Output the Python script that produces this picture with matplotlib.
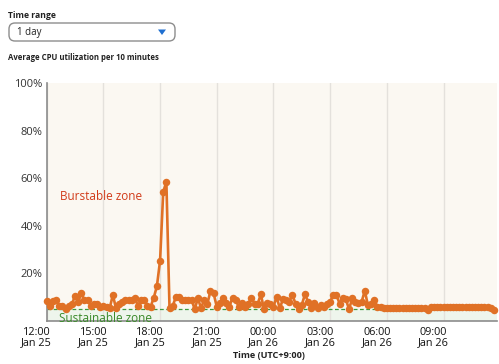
import matplotlib
matplotlib.use("Agg")
import matplotlib.pyplot as plt
import matplotlib.transforms as mtransforms
from matplotlib.patches import FancyBboxPatch, Polygon
import numpy as np

plt.rcParams['font.family'] = ['Open Sans', 'DejaVu Sans']

# ---- data ----
cpu_first = [8.4, 6.4, 8.4, 8.8, 6.4, 6.4, 5.0, 6.4, 7.1, 10.5, 8.0, 11.6, 8.8, 8.8, 6.4, 7.0,
             7.0, 6.0, 6.4, 6.0, 5.3, 11.0, 5.3, 7.3, 8.0, 8.8, 8.8, 8.8, 9.5, 6.4, 8.8, 8.8,
             6.4, 6.0, 9.8, 14.7, 25.4, 54.3, 58.5, 5.3, 6.4, 9.9, 9.9, 8.8, 8.8, 8.8, 8.8, 5.0,
             9.5, 5.5, 8.8, 7.1, 12.6, 11.6, 6.0, 7.6, 9.5, 7.6, 6.0, 9.8, 8.8, 6.0]
cpu_mid = [7.7, 6.0, 7.3, 9.5, 7.3, 7.3, 11.2, 4.9, 7.7, 7.3, 6.0, 10.2, 5.3, 9.1, 8.8, 8.1,
           11.0, 7.3, 4.9, 6.8, 11.2, 8.1, 5.3, 7.7, 5.3, 6.6, 6.0, 7.3, 8.1, 11.0, 11.0, 7.3,
           9.5, 9.1, 4.9, 9.5, 8.1, 7.7, 8.1, 12.7, 6.6, 7.3, 8.8, 6.0, 6.0]
cpu_flat = [5.4, 5.3, 5.3, 5.3, 5.4, 5.3, 5.3, 5.3, 5.3, 5.4, 5.3, 5.3, 5.3, 5.3, 4.6, 5.8,
            5.7, 5.7, 5.7, 5.7, 5.8, 5.7, 5.7, 5.7, 5.7, 5.8, 5.7, 5.7, 5.7, 5.7, 5.8, 5.7,
            5.7, 5.8, 5.6, 4.8]
cpu = cpu_first + cpu_mid + cpu_flat
hours = np.arange(len(cpu)) / 6.0  # 10-minute intervals, hours since 12:00 Jan 25

tick_hours = [0, 3, 6, 9, 12, 15, 18, 21]
tick_labels = ["12:00\nJan 25", "15:00\nJan 25", "18:00\nJan 25", "21:00\nJan 25",
               "00:00\nJan 26", "03:00\nJan 26", "06:00\nJan 26", "09:00\nJan 26"]
y_ticks = [20, 40, 60, 80, 100]
y_labels = ["20%", "40%", "60%", "80%", "100%"]
sustainable_level = 5

W, H = 499, 364
fig = plt.figure(figsize=(W / 100, H / 100), dpi=100)
fig.patch.set_facecolor('white')

def fx(px):
    return px / W

def fy(py):
    return 1 - py / H

ax = fig.add_axes([fx(46.7), fy(321), fx(497) - fx(46.7), fy(83) - fy(321)])
ax.set_xlim(0, 23.83)
ax.set_ylim(0, 100)
ax.set_facecolor('#fbf8f2')
ax.axhspan(0, sustainable_level, color='#eef5ec', zorder=0)
ax.axhline(sustainable_level, color='#3d9a3d', lw=0.9, ls=(0, (3, 2)), zorder=1)
for h in tick_hours:
    ax.axvline(h, color='#e4e1dc', lw=1.0, zorder=0.5)

ax.plot(hours, cpu, color='#e07126', lw=1.9, marker='o', ms=5.4,
        markeredgewidth=0, zorder=3, clip_on=False)

for s in ['top', 'right']:
    ax.spines[s].set_visible(False)
ax.spines['left'].set_color('#8c8c8c')
ax.spines['left'].set_linewidth(1.2)
ax.spines['bottom'].set_color('#8c8c8c')
ax.spines['bottom'].set_linewidth(1.2)

ax.set_yticks(y_ticks)
ax.set_yticklabels(y_labels, fontsize=8, color='#333333')
ax.set_xticks(tick_hours)
ax.set_xticklabels(tick_labels, fontsize=7.8, color='#111111', linespacing=1.0)
ax.tick_params(axis='y', length=0, pad=3)
ax.tick_params(axis='x', length=0, pad=4)
offset = mtransforms.ScaledTranslation(-10 / 100, 0, fig.dpi_scale_trans)
for lbl in ax.get_xticklabels():
    lbl.set_transform(lbl.get_transform() + offset)
    lbl.set_ha('center')
    lbl.set_multialignment('center')

ax.text(fx(60), fy(197), "Burstable zone", transform=fig.transFigure, fontsize=8.5,
        color='#d13b1a', va='center', ha='left')
ax.text(fx(59), fy(318.5), "Sustainable zone", transform=fig.transFigure, fontsize=8.5,
        color='#3a8a2a', va='center', ha='left')

fig.text(fx(269), fy(355), "Time (UTC+9:00)", fontsize=6.6, fontweight='bold',
         color='#222222', ha='center', va='center')

# ---- header UI ----
fig.text(fx(8), fy(15), "Time range", fontsize=6.2, fontweight='bold', color='#222222',
         ha='left', va='center')
box = FancyBboxPatch((fx(9), fy(41)), fx(175) - fx(9), fy(23) - fy(41),
                     boxstyle="round,pad=0,rounding_size=0.012",
                     transform=fig.transFigure, facecolor='white', edgecolor='#8d8d8d',
                     lw=1.0, mutation_aspect=W / H)
fig.patches.append(box)
fig.text(fx(17), fy(32), "1 day", fontsize=7, color='#222222', ha='left', va='center')
tri = Polygon([[fx(158), fy(29.5)], [fx(166), fy(29.5)], [fx(162), fy(35)]],
              closed=True, transform=fig.transFigure, facecolor='#1f6fd0', edgecolor='none')
fig.patches.append(tri)
fig.text(fx(8), fy(57), "Average CPU utilization per 10 minutes", fontsize=5.55,
         fontweight='bold', color='#222222', ha='left', va='center')

fig.savefig("out.png", dpi=100)
